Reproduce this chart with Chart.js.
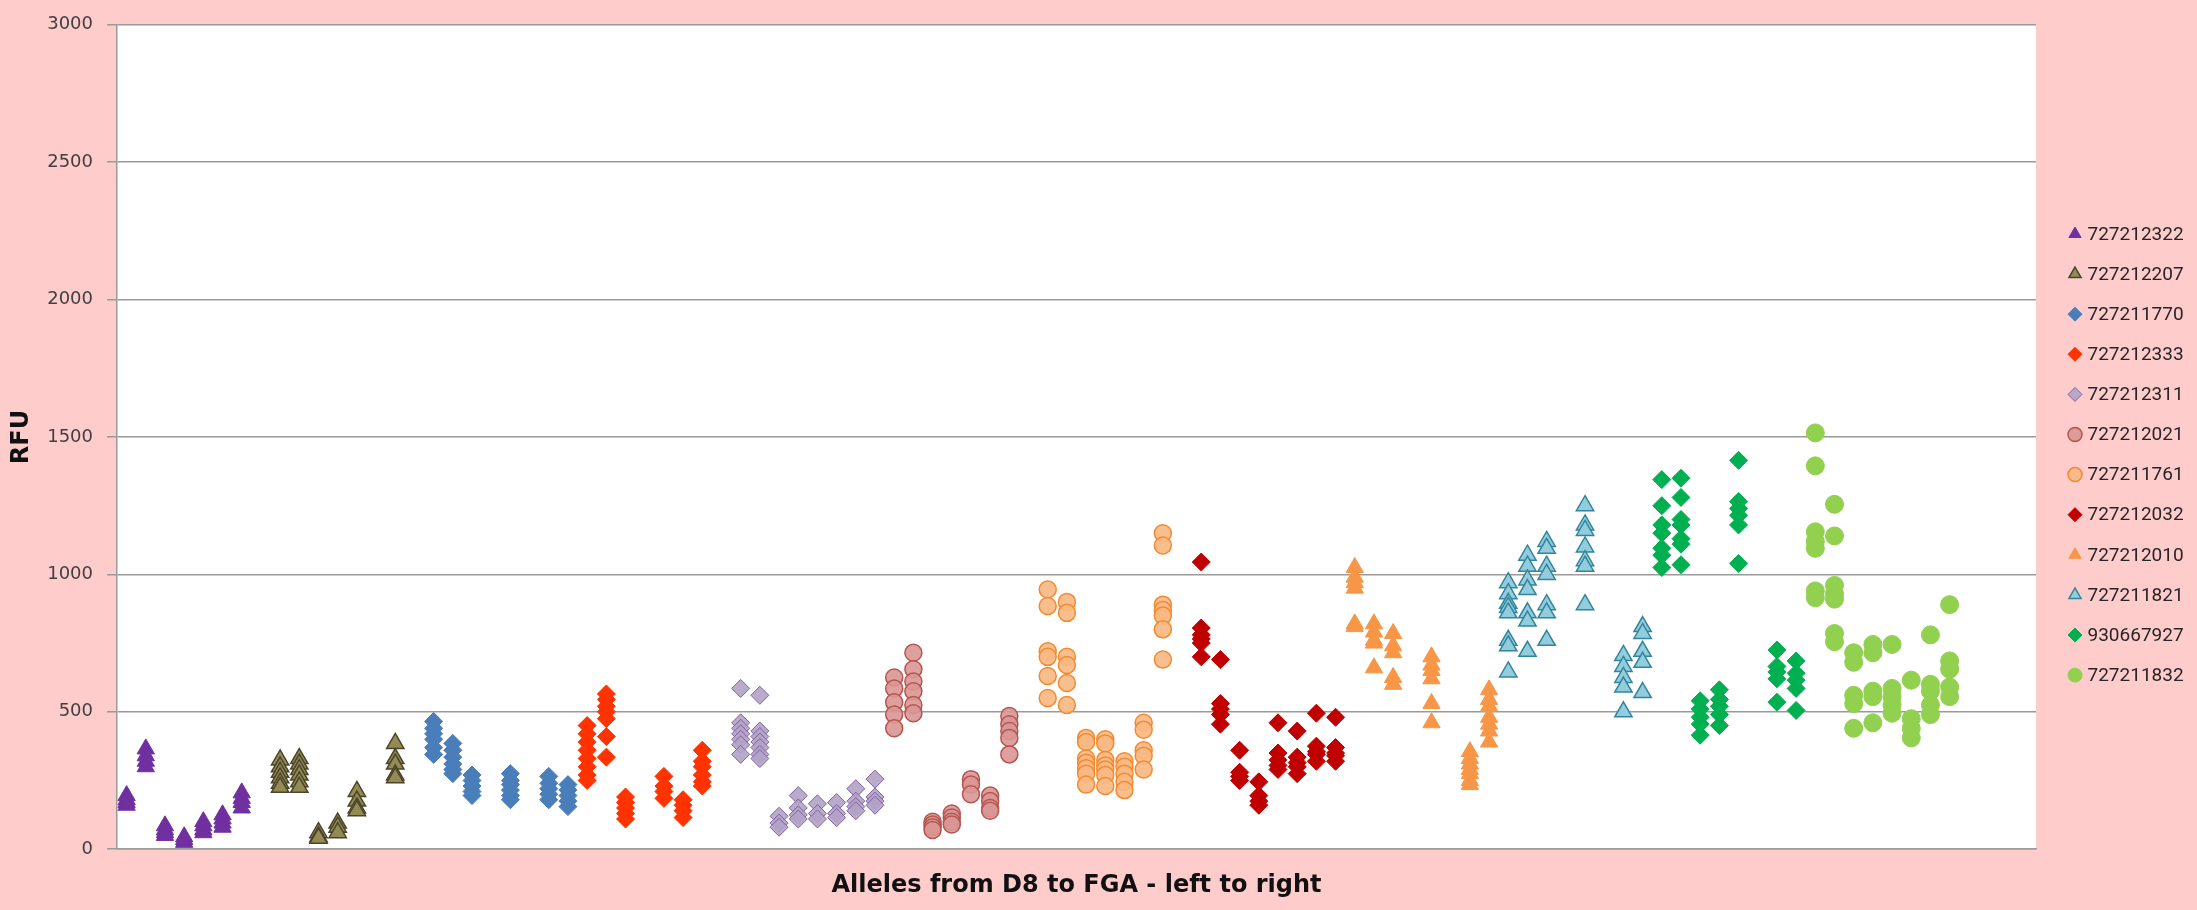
<!DOCTYPE html>
<html>
<head>
<meta charset="utf-8">
<script src="https://cdn.jsdelivr.net/npm/chart.js@4.4.0/dist/chart.umd.min.js"></script>
<style>
  html, body { margin: 0; padding: 0; background: #ffcccc; }
  #contenedor { width: 2197px; height: 910px; }
</style>
</head>
<body>
<div id="contenedor"><canvas id="miGraficoAlelos" width="2197" height="910"></canvas></div>
<script>
// Posición de cada alelo (izquierda a derecha, D8 ... FGA) y lecturas RFU por columna
const nombres = ['727212322', '727212207', '727211770', '727212333', '727212311', '727212021',
                 '727211761', '727212032', '727212010', '727211821', '930667927', '727211832'];

const cols727212322 = [1, 2, 3, 4, 5, 6, 7];
const rfu727212322 = [[195, 180, 170, 160], [365, 340, 320, 300], [85, 70, 60, 50], [45, 35, 25],
                      [100, 85, 70, 60], [125, 110, 95, 80], [205, 185, 170, 150]];

const cols727212207 = [9, 10, 11, 12, 13, 15];
const rfu727212207 = [[325, 300, 280, 260, 240, 225], [330, 310, 290, 270, 245, 225], [60, 45, 40],
                      [95, 80, 60], [210, 175, 150, 140], [385, 330, 310, 270, 260]];

const cols727211770 = [17, 18, 19, 21, 23, 24];
const rfu727211770 = [[465, 440, 420, 400, 370, 345], [385, 360, 335, 310, 290, 275], [270, 250, 230, 210, 195],
                      [275, 250, 235, 215, 195, 180], [265, 240, 220, 200, 180], [235, 215, 195, 175, 155]];

const cols727212333 = [25, 26, 27, 29, 30, 31];
const rfu727212333 = [[450, 420, 390, 360, 330, 300, 270, 250], [565, 545, 520, 500, 475, 410, 335],
                      [190, 170, 150, 130, 110], [265, 230, 210, 185], [180, 160, 140, 115],
                      [360, 320, 300, 270, 245, 230]];

const cols727212311 = [33, 34, 35, 36, 37, 38, 39, 40];
const rfu727212311 = [[585, 460, 440, 420, 400, 380, 345], [560, 430, 410, 390, 370, 345, 330], [120, 95, 80],
                      [195, 150, 125, 110], [165, 130, 110], [170, 130, 115], [220, 175, 155, 140],
                      [255, 190, 175, 160]];

const cols727212021 = [41, 42, 43, 44, 45, 46, 47];
const rfu727212021 = [[625, 585, 535, 490, 440], [715, 655, 610, 575, 525, 495], [100, 90, 80, 70],
                      [130, 115, 100, 90], [255, 235, 200], [195, 175, 150, 140], [485, 455, 430, 405, 345]];

const cols727211761 = [49, 50, 51, 52, 53, 54, 55];
const rfu727211761 = [[945, 885, 720, 700, 630, 550], [900, 860, 700, 670, 605, 525],
                      [405, 390, 330, 315, 295, 275, 235], [400, 385, 325, 305, 290, 270, 230],
                      [320, 300, 275, 245, 215], [460, 435, 360, 340, 290], [1150, 1105, 890, 870, 850, 800, 690]];

const cols727212032 = [57, 58, 59, 60, 61, 62, 63, 64];
const rfu727212032 = [[1045, 805, 780, 765, 750, 700], [690, 530, 510, 490, 455], [360, 280, 265, 250],
                      [245, 195, 175, 160], [460, 350, 325, 305, 290], [430, 335, 315, 300, 275],
                      [495, 375, 355, 345, 320], [480, 370, 350, 340, 320]];

const cols727212010 = [65, 66, 67, 69, 71, 72];
const rfu727212010 = [[1025, 990, 970, 950, 820, 810], [820, 790, 760, 750, 660], [785, 740, 715, 625, 600],
                      [700, 670, 650, 620, 530, 460], [355, 330, 310, 290, 275, 250, 235],
                      [580, 545, 520, 480, 455, 430, 390]];

const cols727211821 = [73, 74, 75, 77, 79, 80];
const rfu727211821 = [[970, 930, 895, 880, 860, 760, 740, 645], [1070, 1030, 980, 945, 860, 830, 720],
                      [1120, 1095, 1030, 1000, 890, 860, 760], [1250, 1180, 1160, 1100, 1050, 1030, 890],
                      [705, 665, 625, 590, 500], [810, 785, 720, 680, 570]];

const cols930667927 = [81, 82, 83, 84, 85, 87, 88];
const rfu930667927 = [[1345, 1250, 1180, 1150, 1095, 1070, 1025], [1350, 1280, 1200, 1180, 1130, 1110, 1035],
                      [540, 510, 480, 455, 415], [580, 545, 520, 490, 450], [1415, 1265, 1240, 1215, 1180, 1040],
                      [725, 665, 645, 620, 535], [685, 640, 615, 585, 505]];

const cols727211832 = [89, 90, 91, 92, 93, 94, 95, 96];
const rfu727211832 = [[1515, 1395, 1155, 1120, 1095, 940, 915], [1255, 1140, 960, 930, 910, 785, 755],
                      [715, 680, 560, 530, 440], [745, 715, 575, 555, 460], [745, 585, 555, 525, 495],
                      [615, 475, 440, 405], [780, 600, 575, 525, 490], [890, 685, 655, 590, 555]];

const columnas = [cols727212322, cols727212207, cols727211770, cols727212333, cols727212311, cols727212021,
                  cols727211761, cols727212032, cols727212010, cols727211821, cols930667927, cols727211832];
const lecturas = [rfu727212322, rfu727212207, rfu727211770, rfu727212333, rfu727212311, rfu727212021,
                  rfu727211761, rfu727212032, rfu727212010, rfu727211821, rfu930667927, rfu727211832];

// estilo de marcador de cada serie (como en Excel)
const estilos = [
    { forma: 'triangle', relleno: '#7030a0', borde: '#7030a0', ancho: 1, radio: 10 },
    { forma: 'triangle', relleno: '#948a54', borde: '#4a452a', ancho: 1.5, radio: 10 },
    { forma: 'rectRot', relleno: '#4a7ebb', borde: '#4a7ebb', ancho: 1, radio: 9 },
    { forma: 'rectRot', relleno: '#ff3300', borde: '#ff3300', ancho: 1, radio: 9 },
    { forma: 'rectRot', relleno: 'rgba(179,162,199,0.9)', borde: '#8064a2', ancho: 1, radio: 9 },
    { forma: 'circle', relleno: 'rgba(217,150,148,0.9)', borde: '#b65450', ancho: 1.5, radio: 8.5 },
    { forma: 'circle', relleno: 'rgba(249,185,132,0.92)', borde: '#f38a2e', ancho: 1.5, radio: 8.5 },
    { forma: 'rectRot', relleno: '#c00000', borde: '#c00000', ancho: 1, radio: 9 },
    { forma: 'triangle', relleno: '#f79646', borde: '#f79646', ancho: 1, radio: 10 },
    { forma: 'triangle', relleno: '#93cddd', borde: '#31859c', ancho: 1.5, radio: 10 },
    { forma: 'rectRot', relleno: '#00b050', borde: '#00b050', ancho: 1, radio: 9 },
    { forma: 'circle', relleno: '#92d050', borde: '#92d050', ancho: 1, radio: 9 }
];

const datasets = nombres.map((nombre, i) => {
    const puntos = [];
    columnas[i].forEach((x, j) => {
        lecturas[i][j].forEach(v => puntos.push({ x: x, y: v }));
    });
    const e = estilos[i];
    return {
        label: nombre,
        data: puntos,
        showLine: false,
        pointStyle: e.forma,
        pointRadius: e.radio,
        pointBackgroundColor: e.relleno,
        pointBorderColor: e.borde,
        pointBorderWidth: e.ancho,
        backgroundColor: e.relleno,
        borderColor: e.borde,
        borderWidth: e.ancho
    };
});

// fondo rosa del gráfico y área blanca del trazado
const fondo = {
    id: 'fondo',
    beforeDraw(chart) {
        const { ctx, chartArea } = chart;
        ctx.save();
        ctx.fillStyle = '#ffcccc';
        ctx.fillRect(0, 0, chart.width, chart.height);
        ctx.fillStyle = '#ffffff';
        ctx.fillRect(chartArea.left, chartArea.top, chartArea.right - chartArea.left, chartArea.bottom - chartArea.top);
        ctx.restore();
    }
};

// leyenda a la derecha, una entrada por serie
const leyenda = {
    id: 'leyenda',
    afterDraw(chart) {
        const { ctx, chartArea } = chart;
        const xMarca = chartArea.right + 39;
        chart.data.datasets.forEach((ds, i) => {
            const y = 234 + i * 40.1;
            ctx.save();
            ctx.fillStyle = ds.backgroundColor;
            ctx.strokeStyle = ds.borderColor;
            ctx.lineWidth = ds.borderWidth;
            Chart.helpers.drawPoint(ctx, { pointStyle: ds.pointStyle, radius: 7, rotation: 0, borderWidth: ds.borderWidth }, xMarca, y);
            ctx.fillStyle = '#262626';
            ctx.font = '19px Roboto';
            ctx.textAlign = 'left';
            ctx.textBaseline = 'middle';
            ctx.fillText(ds.label, xMarca + 12.5, y + 1);
            ctx.restore();
        });
    }
};

const miGraficoAlelos = document.getElementById('miGraficoAlelos').getContext('2d');

new Chart(miGraficoAlelos, {
    type: 'scatter',
    data: { datasets: datasets },
    options: {
        responsive: false,
        animation: false,
        events: [],
        layout: { padding: { top: 15, right: 161, left: 0, bottom: 0 } },
        plugins: {
            legend: { display: false },
            tooltip: { enabled: false }
        },
        scales: {
            x: {
                type: 'linear',
                min: 0.5,
                max: 100.5,
                grid: { display: false },
                ticks: { display: false },
                border: { display: true, color: '#9a9a9a', width: 1.5 },
                title: {
                    display: true,
                    text: 'Alleles from D8 to FGA - left to right',
                    color: '#111111',
                    font: { family: 'DejaVu Sans', size: 24, weight: 'bold' },
                    padding: { top: 14, bottom: 10 }
                }
            },
            y: {
                min: 0,
                max: 3000,
                ticks: {
                    stepSize: 500,
                    color: '#404040',
                    padding: 14,
                    font: { family: 'DejaVu Sans', size: 18 },
                    callback: (valor) => String(valor)
                },
                grid: { color: '#9a9a9a', lineWidth: 1.5, tickLength: 10 },
                border: { color: '#9a9a9a', width: 1.5 },
                title: {
                    display: true,
                    text: 'RFU',
                    color: '#111111',
                    font: { family: 'DejaVu Sans', size: 24, weight: 'bold' },
                    padding: { top: 7, bottom: 0 }
                },
                afterFit: (escala) => { escala.width = 117; }
            }
        }
    },
    plugins: [fondo, leyenda]
});
</script>
</body>
</html>
